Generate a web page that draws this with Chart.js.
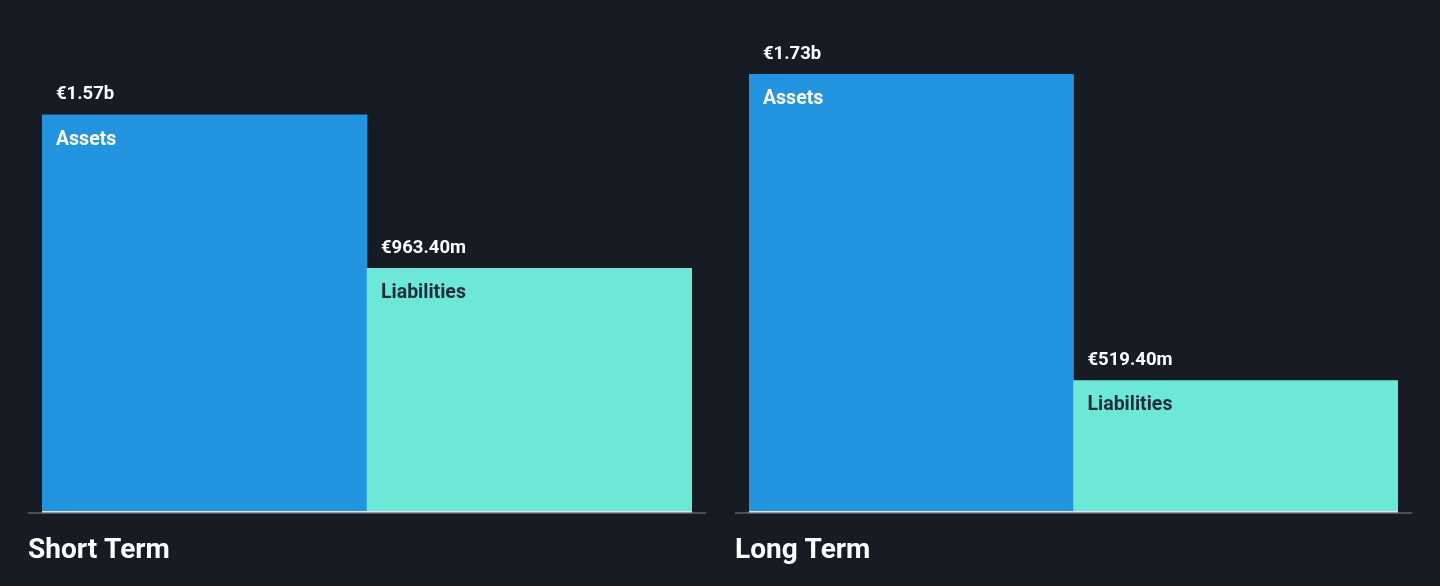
<!DOCTYPE html>
<html lang="en">
<head>
    <meta charset="UTF-8">
    <title>Short and Long Term Assets vs Liabilities</title>
    <script src="https://cdn.jsdelivr.net/npm/chart.js"></script>
    <style>
        body {
            margin: 0;
            padding: 0;
            background: #161b24;
            font-family: Roboto, sans-serif;
            overflow: hidden;
        }

        .panel {
            position: absolute;
            top: 0;
            width: 720px;
            height: 586px;
        }

        #left { left: 0; }
        #right { left: 720px; }
    </style>
</head>
<body>
    <div class="panel" id="left"><canvas id="shortChart"></canvas></div>
    <div class="panel" id="right"><canvas id="longChart"></canvas></div>

    <script>
        // values in millions of euros
        const categories = ["Assets", "Liabilities"];
        const shortTermValues = [1570, 963.4];
        const longTermValues = [1730, 519.4];
        const shortTermLabels = ["€1.57b", "€963.40m"];
        const longTermLabels = ["€1.73b", "€519.40m"];
        const groupTitles = ["Short Term", "Long Term"];

        const barColors = ['#2394df', '#6ee8d6'];
        const innerTextColors = ['#ffffff', '#1b2d3c'];

        const barLabels = {
            id: 'barLabels',
            afterDatasetsDraw(chart, args, opts) {
                const ctx = chart.ctx;
                const meta = chart.getDatasetMeta(0);
                const area = chart.chartArea;
                const yBase = chart.scales.y.getPixelForValue(0);

                // axis line
                ctx.save();
                ctx.fillStyle = '#4b505a';
                ctx.fillRect(area.left - 14, yBase, area.right - area.left + 28, 2);

                meta.data.forEach((bar, i) => {
                    const left = bar.x - bar.width / 2;
                    // thin light edge along the bar bottom
                    ctx.fillStyle = '#dfe6ee';
                    ctx.fillRect(left, yBase - 1, bar.width, 1.5);

                    ctx.textBaseline = 'middle';
                    ctx.textAlign = 'left';
                    ctx.font = 'bold 18.5px Roboto';
                    ctx.fillStyle = '#ffffff';
                    ctx.fillText(opts.values[i], left + 14, bar.y - 20);
                    ctx.font = 'bold 19.5px Roboto';
                    ctx.fillStyle = innerTextColors[i];
                    ctx.fillText(categories[i], left + 14, bar.y + 25);
                });

                ctx.font = 'bold 28px Roboto';
                ctx.fillStyle = '#ffffff';
                ctx.fillText(opts.title, area.left - 14, yBase + 39);
                ctx.restore();
            }
        };

        function makeChart(id, values, labels, title, padLeft, padRight) {
            return new Chart(document.getElementById(id), {
                type: 'bar',
                data: {
                    labels: categories,
                    datasets: [{
                        data: values,
                        backgroundColor: barColors,
                        borderWidth: 0,
                        barPercentage: 1,
                        categoryPercentage: 1
                    }]
                },
                options: {
                    responsive: true,
                    maintainAspectRatio: false,
                    animation: false,
                    layout: { padding: { left: padLeft, right: padRight, top: 6, bottom: 74 } },
                    plugins: {
                        legend: { display: false },
                        tooltip: { enabled: false },
                        barLabels: { values: labels, title: title }
                    },
                    scales: {
                        x: { display: false },
                        y: { display: false, min: 0, max: 2000 }
                    }
                },
                plugins: [barLabels]
            });
        }

        makeChart('shortChart', shortTermValues, shortTermLabels, groupTitles[0], 42, 28);
        makeChart('longChart', longTermValues, longTermLabels, groupTitles[1], 29, 42);
    </script>
</body>
</html>
